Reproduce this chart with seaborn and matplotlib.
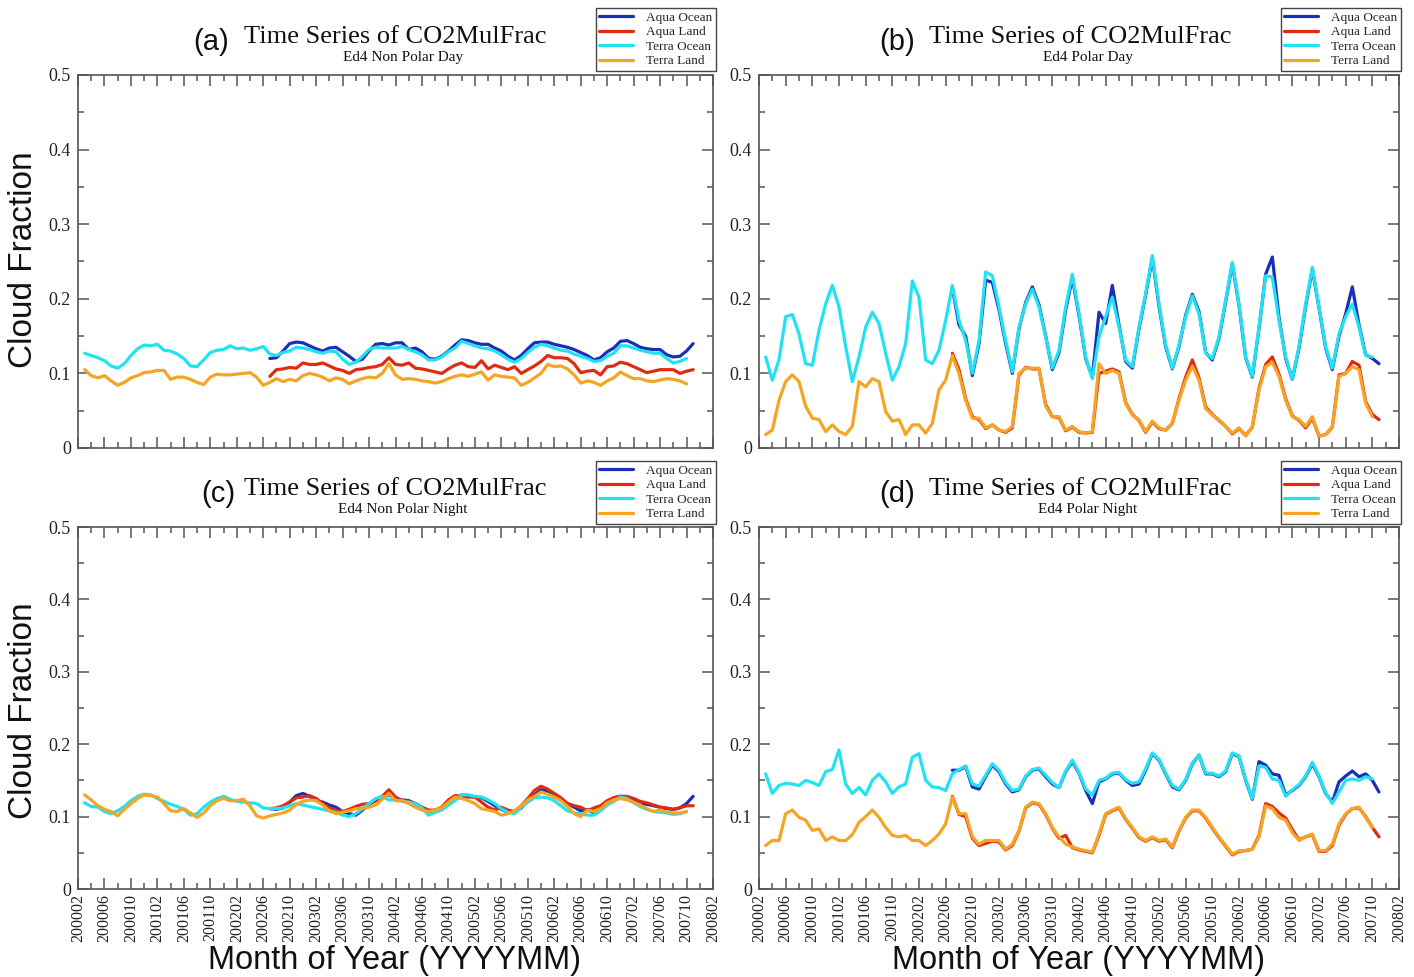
import numpy as np
import pandas as pd
import matplotlib
matplotlib.use("Agg")
import matplotlib.pyplot as plt
from matplotlib.ticker import FixedLocator, FixedFormatter
import seaborn as sns

# ---------------- data ----------------
series_names = ["Aqua Ocean", "Aqua Land", "Terra Ocean", "Terra Land"]
series_colors = ["#1a2fb5", "#e02a12", "#22e2f2", "#f5a423"]
terra_start = 1    # 200003
aqua_start = 29    # 200207

tick_labels = ["200002", "200006", "200010", "200102", "200106", "200110", "200202",
               "200206", "200210", "200302", "200306", "200310", "200402", "200406",
               "200410", "200502", "200506", "200510", "200602", "200606", "200610",
               "200702", "200706", "200710", "200802"]
y_ticks = [0.0, 0.1, 0.2, 0.3, 0.4, 0.5]
y_tick_labels = ["0", "0.1", "0.2", "0.3", "0.4", "0.5"]

panel_letters = ["(a)", "(b)", "(c)", "(d)"]
panel_subtitles = ["Ed4 Non Polar Day", "Ed4 Polar Day", "Ed4 Non Polar Night", "Ed4 Polar Night"]

# (a) Non Polar Day
a_aqua_ocean = [0.120, 0.121, 0.130, 0.140, 0.142, 0.141, 0.137, 0.133, 0.130, 0.134, 0.135, 0.129, 0.123, 0.116, 0.119, 0.130, 0.139, 0.140, 0.138, 0.141,
                0.141, 0.132, 0.134, 0.129, 0.120, 0.119, 0.123, 0.130, 0.138, 0.145, 0.144, 0.141, 0.139, 0.139, 0.134, 0.130, 0.123, 0.118, 0.124, 0.133, 0.141, 0.142, 0.142, 0.139, 0.137,
                0.135, 0.132, 0.128, 0.124, 0.118, 0.121, 0.129, 0.134, 0.143, 0.144, 0.140, 0.135, 0.133, 0.132, 0.132, 0.125, 0.122, 0.123, 0.130, 0.140]
a_aqua_land = [0.096, 0.105, 0.106, 0.108, 0.107, 0.114, 0.112, 0.112, 0.114, 0.110, 0.106, 0.104, 0.100, 0.105, 0.106, 0.108, 0.109, 0.112, 0.121, 0.112,
               0.111, 0.114, 0.107, 0.106, 0.104, 0.102, 0.100, 0.106, 0.111, 0.114, 0.109, 0.108, 0.117, 0.106, 0.111, 0.108, 0.105, 0.109, 0.100, 0.105, 0.110, 0.116, 0.124, 0.121, 0.121,
               0.120, 0.113, 0.101, 0.103, 0.104, 0.098, 0.109, 0.110, 0.115, 0.113, 0.109, 0.105, 0.101, 0.103, 0.105, 0.105, 0.105, 0.100, 0.103, 0.105]
a_terra_ocean = [0.127, 0.124, 0.121, 0.117, 0.110, 0.107, 0.113, 0.124, 0.133, 0.138, 0.137, 0.139, 0.131, 0.130, 0.126, 0.120, 0.110, 0.109, 0.118, 0.128, 0.131, 0.132, 0.137, 0.133,
                 0.134, 0.131, 0.133, 0.136, 0.126, 0.124, 0.128, 0.130, 0.135, 0.134, 0.132, 0.129, 0.127, 0.130, 0.129, 0.119, 0.112, 0.115, 0.123, 0.132, 0.135, 0.134, 0.134, 0.134,
                 0.136, 0.132, 0.129, 0.125, 0.118, 0.118, 0.122, 0.129, 0.134, 0.143, 0.140, 0.137, 0.134, 0.133, 0.130, 0.125, 0.119, 0.115, 0.120, 0.128, 0.135, 0.139,
                 0.137, 0.134, 0.131, 0.130, 0.126, 0.123, 0.120, 0.116, 0.117, 0.123, 0.127, 0.137, 0.137, 0.134, 0.131, 0.129, 0.127, 0.127, 0.120, 0.114, 0.116, 0.120]
a_terra_land = [0.105, 0.097, 0.094, 0.097, 0.090, 0.084, 0.088, 0.094, 0.097, 0.101, 0.102, 0.104, 0.104, 0.092, 0.095, 0.095, 0.092, 0.088, 0.085, 0.095, 0.099, 0.098, 0.098, 0.099,
                0.100, 0.101, 0.095, 0.084, 0.088, 0.093, 0.089, 0.092, 0.090, 0.097, 0.100, 0.098, 0.095, 0.090, 0.094, 0.092, 0.086, 0.090, 0.093, 0.095, 0.094, 0.100, 0.113, 0.098,
                0.092, 0.093, 0.092, 0.090, 0.089, 0.087, 0.089, 0.093, 0.096, 0.098, 0.096, 0.099, 0.102, 0.091, 0.098, 0.096, 0.095, 0.094, 0.084, 0.088, 0.094, 0.100,
                0.112, 0.109, 0.110, 0.106, 0.098, 0.087, 0.090, 0.088, 0.084, 0.090, 0.094, 0.102, 0.097, 0.093, 0.093, 0.090, 0.089, 0.091, 0.093, 0.092, 0.090, 0.086]

# (b) Polar Day
b_aqua_ocean = [0.215, 0.165, 0.150, 0.097, 0.140, 0.225, 0.222, 0.185, 0.140, 0.100, 0.160, 0.195, 0.216, 0.192, 0.150, 0.105, 0.128, 0.185, 0.228, 0.178,
                0.120, 0.095, 0.182, 0.167, 0.218, 0.165, 0.116, 0.107, 0.160, 0.205, 0.255, 0.190, 0.136, 0.106, 0.136, 0.178, 0.206, 0.183, 0.128, 0.118, 0.147, 0.196, 0.247, 0.191, 0.121,
                0.095, 0.160, 0.233, 0.256, 0.175, 0.120, 0.092, 0.134, 0.190, 0.240, 0.188, 0.134, 0.105, 0.150, 0.180, 0.216, 0.165, 0.125, 0.120, 0.113]
b_aqua_land = [0.127, 0.105, 0.066, 0.042, 0.038, 0.026, 0.031, 0.024, 0.021, 0.027, 0.098, 0.108, 0.106, 0.106, 0.058, 0.042, 0.041, 0.023, 0.028, 0.021,
               0.020, 0.021, 0.100, 0.103, 0.106, 0.102, 0.061, 0.045, 0.037, 0.021, 0.035, 0.026, 0.024, 0.033, 0.066, 0.095, 0.118, 0.094, 0.055, 0.045, 0.037, 0.029, 0.019, 0.026, 0.017,
               0.028, 0.080, 0.112, 0.122, 0.099, 0.066, 0.043, 0.037, 0.027, 0.040, 0.016, 0.018, 0.028, 0.098, 0.100, 0.116, 0.111, 0.062, 0.045, 0.038]
b_terra_ocean = [0.122, 0.091, 0.118, 0.176, 0.179, 0.153, 0.113, 0.111, 0.158, 0.193, 0.218, 0.189, 0.136, 0.089, 0.122, 0.162, 0.182, 0.167, 0.127, 0.091, 0.109, 0.140, 0.224, 0.202,
                 0.118, 0.113, 0.131, 0.171, 0.218, 0.171, 0.144, 0.100, 0.144, 0.236, 0.231, 0.189, 0.144, 0.102, 0.162, 0.193, 0.213, 0.189, 0.149, 0.107, 0.131, 0.189, 0.233, 0.180,
                 0.122, 0.093, 0.149, 0.176, 0.202, 0.162, 0.118, 0.109, 0.162, 0.207, 0.258, 0.193, 0.138, 0.107, 0.138, 0.176, 0.204, 0.180, 0.127, 0.120, 0.149, 0.198,
                 0.249, 0.193, 0.122, 0.096, 0.162, 0.231, 0.229, 0.171, 0.122, 0.092, 0.136, 0.193, 0.242, 0.189, 0.136, 0.107, 0.153, 0.176, 0.193, 0.162, 0.124, 0.122]
b_terra_land = [0.018, 0.024, 0.064, 0.089, 0.098, 0.089, 0.056, 0.040, 0.038, 0.022, 0.031, 0.022, 0.018, 0.029, 0.089, 0.082, 0.093, 0.089, 0.049, 0.036, 0.038, 0.018, 0.031, 0.031,
                0.020, 0.033, 0.078, 0.091, 0.124, 0.100, 0.064, 0.040, 0.040, 0.027, 0.031, 0.024, 0.022, 0.029, 0.100, 0.107, 0.107, 0.107, 0.056, 0.042, 0.042, 0.024, 0.029, 0.022,
                0.020, 0.022, 0.113, 0.100, 0.104, 0.100, 0.060, 0.044, 0.038, 0.022, 0.036, 0.027, 0.024, 0.033, 0.064, 0.091, 0.110, 0.091, 0.053, 0.044, 0.038, 0.029,
                0.020, 0.027, 0.016, 0.029, 0.078, 0.109, 0.115, 0.096, 0.064, 0.042, 0.038, 0.029, 0.042, 0.016, 0.018, 0.029, 0.096, 0.100, 0.109, 0.105, 0.060, 0.042]

# (c) Non Polar Night
c_aqua_ocean = [0.111, 0.110, 0.112, 0.120, 0.129, 0.132, 0.128, 0.122, 0.120, 0.116, 0.113, 0.107, 0.104, 0.102, 0.109, 0.117, 0.122, 0.128, 0.130, 0.124,
                0.123, 0.122, 0.118, 0.112, 0.107, 0.106, 0.111, 0.118, 0.124, 0.130, 0.129, 0.127, 0.126, 0.121, 0.115, 0.110, 0.106, 0.106, 0.112, 0.122, 0.130, 0.137, 0.135, 0.131, 0.124,
                0.118, 0.113, 0.108, 0.110, 0.105, 0.110, 0.120, 0.126, 0.128, 0.127, 0.123, 0.118, 0.117, 0.115, 0.113, 0.111, 0.110, 0.112, 0.118, 0.128]
c_aqua_land = [0.111, 0.112, 0.115, 0.120, 0.126, 0.127, 0.129, 0.125, 0.118, 0.112, 0.109, 0.107, 0.110, 0.114, 0.117, 0.118, 0.122, 0.128, 0.137, 0.127,
               0.122, 0.121, 0.118, 0.113, 0.109, 0.109, 0.113, 0.123, 0.129, 0.128, 0.127, 0.127, 0.120, 0.113, 0.109, 0.113, 0.109, 0.107, 0.115, 0.125, 0.136, 0.142, 0.138, 0.132, 0.126,
               0.118, 0.115, 0.113, 0.108, 0.112, 0.115, 0.122, 0.126, 0.128, 0.128, 0.125, 0.121, 0.119, 0.116, 0.113, 0.112, 0.110, 0.112, 0.115, 0.115]
c_terra_ocean = [0.119, 0.114, 0.113, 0.107, 0.104, 0.108, 0.114, 0.122, 0.128, 0.131, 0.130, 0.125, 0.121, 0.117, 0.114, 0.110, 0.102, 0.104, 0.113, 0.120, 0.125, 0.128, 0.124, 0.121,
                 0.120, 0.119, 0.118, 0.112, 0.111, 0.111, 0.112, 0.115, 0.118, 0.116, 0.114, 0.112, 0.110, 0.108, 0.106, 0.102, 0.100, 0.104, 0.111, 0.118, 0.125, 0.128, 0.123, 0.123,
                 0.121, 0.120, 0.118, 0.112, 0.102, 0.106, 0.109, 0.116, 0.122, 0.130, 0.130, 0.128, 0.127, 0.123, 0.118, 0.111, 0.106, 0.104, 0.113, 0.120, 0.126, 0.127,
                 0.126, 0.122, 0.115, 0.108, 0.105, 0.104, 0.102, 0.102, 0.108, 0.116, 0.121, 0.127, 0.125, 0.119, 0.114, 0.110, 0.107, 0.106, 0.105, 0.103, 0.104, 0.107]
c_terra_land = [0.130, 0.123, 0.115, 0.110, 0.107, 0.101, 0.110, 0.118, 0.125, 0.130, 0.129, 0.127, 0.118, 0.108, 0.107, 0.111, 0.105, 0.099, 0.105, 0.115, 0.122, 0.125, 0.122, 0.122,
                0.124, 0.115, 0.101, 0.098, 0.101, 0.103, 0.105, 0.109, 0.117, 0.121, 0.123, 0.122, 0.116, 0.108, 0.104, 0.106, 0.108, 0.111, 0.111, 0.113, 0.116, 0.124, 0.132, 0.122,
                0.122, 0.118, 0.113, 0.109, 0.107, 0.109, 0.112, 0.120, 0.127, 0.125, 0.122, 0.118, 0.111, 0.109, 0.107, 0.102, 0.104, 0.108, 0.115, 0.123, 0.128, 0.134,
                0.131, 0.127, 0.122, 0.114, 0.104, 0.100, 0.109, 0.107, 0.111, 0.119, 0.123, 0.125, 0.123, 0.120, 0.116, 0.111, 0.107, 0.109, 0.106, 0.105, 0.105, 0.107]

# (d) Polar Night
d_aqua_ocean = [0.164, 0.164, 0.169, 0.141, 0.138, 0.155, 0.171, 0.162, 0.145, 0.134, 0.137, 0.155, 0.164, 0.166, 0.155, 0.145, 0.140, 0.162, 0.176, 0.160,
                0.136, 0.118, 0.148, 0.152, 0.159, 0.160, 0.150, 0.143, 0.145, 0.164, 0.187, 0.178, 0.159, 0.141, 0.137, 0.150, 0.173, 0.185, 0.159, 0.159, 0.155, 0.162, 0.187, 0.183, 0.150,
                0.124, 0.176, 0.171, 0.159, 0.157, 0.130, 0.136, 0.143, 0.155, 0.173, 0.155, 0.132, 0.120, 0.148, 0.156, 0.163, 0.155, 0.159, 0.150, 0.134]
d_aqua_land = [0.128, 0.103, 0.100, 0.070, 0.060, 0.063, 0.066, 0.065, 0.054, 0.060, 0.080, 0.112, 0.119, 0.117, 0.103, 0.084, 0.070, 0.074, 0.057, 0.054,
               0.052, 0.050, 0.074, 0.103, 0.108, 0.112, 0.096, 0.084, 0.071, 0.066, 0.071, 0.066, 0.068, 0.057, 0.080, 0.098, 0.108, 0.108, 0.098, 0.084, 0.071, 0.059, 0.047, 0.052, 0.053,
               0.055, 0.074, 0.118, 0.114, 0.105, 0.098, 0.082, 0.068, 0.072, 0.075, 0.052, 0.052, 0.060, 0.088, 0.103, 0.111, 0.112, 0.100, 0.085, 0.072]
d_terra_ocean = [0.159, 0.132, 0.143, 0.146, 0.145, 0.143, 0.150, 0.147, 0.143, 0.162, 0.165, 0.192, 0.145, 0.132, 0.140, 0.130, 0.150, 0.159, 0.148, 0.132, 0.141, 0.145, 0.182, 0.187,
                 0.150, 0.141, 0.140, 0.136, 0.159, 0.165, 0.170, 0.145, 0.142, 0.157, 0.173, 0.164, 0.147, 0.136, 0.138, 0.156, 0.165, 0.167, 0.157, 0.147, 0.140, 0.163, 0.178, 0.161,
                 0.138, 0.130, 0.150, 0.153, 0.160, 0.161, 0.151, 0.146, 0.148, 0.166, 0.188, 0.179, 0.160, 0.143, 0.138, 0.151, 0.174, 0.185, 0.160, 0.160, 0.156, 0.163,
                 0.188, 0.184, 0.151, 0.125, 0.170, 0.168, 0.152, 0.150, 0.128, 0.137, 0.144, 0.156, 0.175, 0.156, 0.133, 0.118, 0.134, 0.150, 0.152, 0.150, 0.155, 0.152]
d_terra_land = [0.060, 0.067, 0.067, 0.104, 0.109, 0.099, 0.095, 0.081, 0.083, 0.067, 0.072, 0.067, 0.067, 0.075, 0.092, 0.100, 0.109, 0.099, 0.085, 0.074, 0.072, 0.074, 0.067, 0.067,
                0.060, 0.067, 0.076, 0.090, 0.127, 0.104, 0.104, 0.072, 0.062, 0.067, 0.067, 0.067, 0.055, 0.062, 0.081, 0.113, 0.120, 0.118, 0.104, 0.085, 0.072, 0.062, 0.058, 0.055,
                0.053, 0.051, 0.076, 0.104, 0.109, 0.113, 0.097, 0.085, 0.072, 0.067, 0.072, 0.067, 0.069, 0.058, 0.081, 0.099, 0.109, 0.109, 0.099, 0.085, 0.072, 0.060,
                0.048, 0.053, 0.053, 0.055, 0.072, 0.115, 0.111, 0.099, 0.095, 0.078, 0.067, 0.072, 0.076, 0.053, 0.053, 0.062, 0.090, 0.104, 0.111, 0.113, 0.099, 0.085]

panels = [
    [a_aqua_ocean, a_aqua_land, a_terra_ocean, a_terra_land],
    [b_aqua_ocean, b_aqua_land, b_terra_ocean, b_terra_land],
    [c_aqua_ocean, c_aqua_land, c_terra_ocean, c_terra_land],
    [d_aqua_ocean, d_aqua_land, d_terra_ocean, d_terra_land],
]
starts = [aqua_start, aqua_start, terra_start, terra_start]

# ---------------- figure ----------------
sns.set_theme(style="ticks")
plt.rcParams["font.family"] = ["Liberation Serif", "DejaVu Serif"]

W, H = 1414, 977
fig = plt.figure(figsize=(W / 100, H / 100), dpi=100)

def px_rect(l, t, r, b):
    return [l / W, 1 - b / H, (r - l) / W, (b - t) / H]

rects = [px_rect(78, 75, 713, 448), px_rect(759, 75, 1399, 448),
         px_rect(78, 527, 713, 889), px_rect(759, 527, 1399, 889)]
legend_anchor = [(716, 8), (1401, 8), (716, 461), (1401, 461)]
title_cx = [395, 1080, 395, 1080]
letter_x = [211, 897, 218, 897]
title_top = [37, 37, 489, 489]
xlabel_cx = [395, 1079]
ylabel_cy = [260, 711]

spine_col = "#555555"
for i, ax_rect in enumerate(rects):
    ax = fig.add_axes(ax_rect)
    for name, col, vals, st in zip(series_names, series_colors, panels[i], starts):
        months = np.arange(st, st + len(vals))
        df = pd.DataFrame({"month": months, "value": vals})
        sns.lineplot(data=df, x="month", y="value", ax=ax, color=col, linewidth=2.3,
                     label=name, estimator=None, sort=False)
    ax.set_xlim(0, 96)
    ax.set_ylim(0, 0.5)
    ax.xaxis.set_major_locator(FixedLocator(np.arange(0, 97, 4)))
    ax.xaxis.set_minor_locator(FixedLocator(np.arange(2, 96, 4)))
    ax.yaxis.set_major_locator(FixedLocator(y_ticks))
    ax.yaxis.set_major_formatter(FixedFormatter(y_tick_labels))
    ax.yaxis.set_minor_locator(FixedLocator([0.05, 0.15, 0.25, 0.35, 0.45]))
    ax.set_xlabel("")
    ax.set_ylabel("")
    if i >= 2:
        ax.xaxis.set_major_formatter(FixedFormatter(tick_labels))
        plt.setp(ax.get_xticklabels(), rotation=90, fontsize=11.5)
        fig.text(xlabel_cx[i - 2] / W, 1 - 969 / H, "Month of Year (YYYYMM)",
                 family="Liberation Sans", fontsize=23.5, ha="center", va="baseline",
                 color="#111111")
    else:
        ax.set_xticklabels([])
    if i % 2 == 0:
        fig.text(24 / W, 1 - ylabel_cy[i // 2] / H, "Cloud Fraction",
                 family="Liberation Sans", fontsize=24, ha="center", va="center",
                 rotation=90, color="#111111")
    ax.tick_params(axis="both", which="both", direction="in", top=True, right=True,
                   colors=spine_col, labelcolor="#222222")
    ax.tick_params(axis="both", which="major", length=8, width=1.1)
    ax.tick_params(axis="both", which="minor", length=4, width=1.1)
    ax.tick_params(axis="y", labelsize=13, pad=5)
    for sp in ax.spines.values():
        sp.set_color(spine_col)
        sp.set_linewidth(1.2)
    handles, labels = ax.get_legend_handles_labels()
    ax.legend(handles, labels, loc="upper right",
              bbox_to_anchor=(legend_anchor[i][0] / W, 1 - legend_anchor[i][1] / H),
              bbox_transform=fig.transFigure, fontsize=9.5, frameon=True, fancybox=False,
              edgecolor="#444444", framealpha=1, borderpad=0.25, labelspacing=0.18,
              handlelength=2.6, handletextpad=1.0, borderaxespad=0)
    # titles
    fig.text(letter_x[i] / W, 1 - (title_top[i] + 5) / H, panel_letters[i],
             family="Liberation Sans", fontsize=21, ha="center", va="center", color="#111111")
    fig.text(title_cx[i] / W, 1 - title_top[i] / H, "Time Series of CO2MulFrac",
             fontsize=19, ha="center", va="center", color="#111111")
    fig.text((title_cx[i] + 8) / W, 1 - (title_top[i] + 21) / H, panel_subtitles[i],
             fontsize=11, ha="center", va="center", color="#111111")

fig.savefig("out.png", dpi=100)
